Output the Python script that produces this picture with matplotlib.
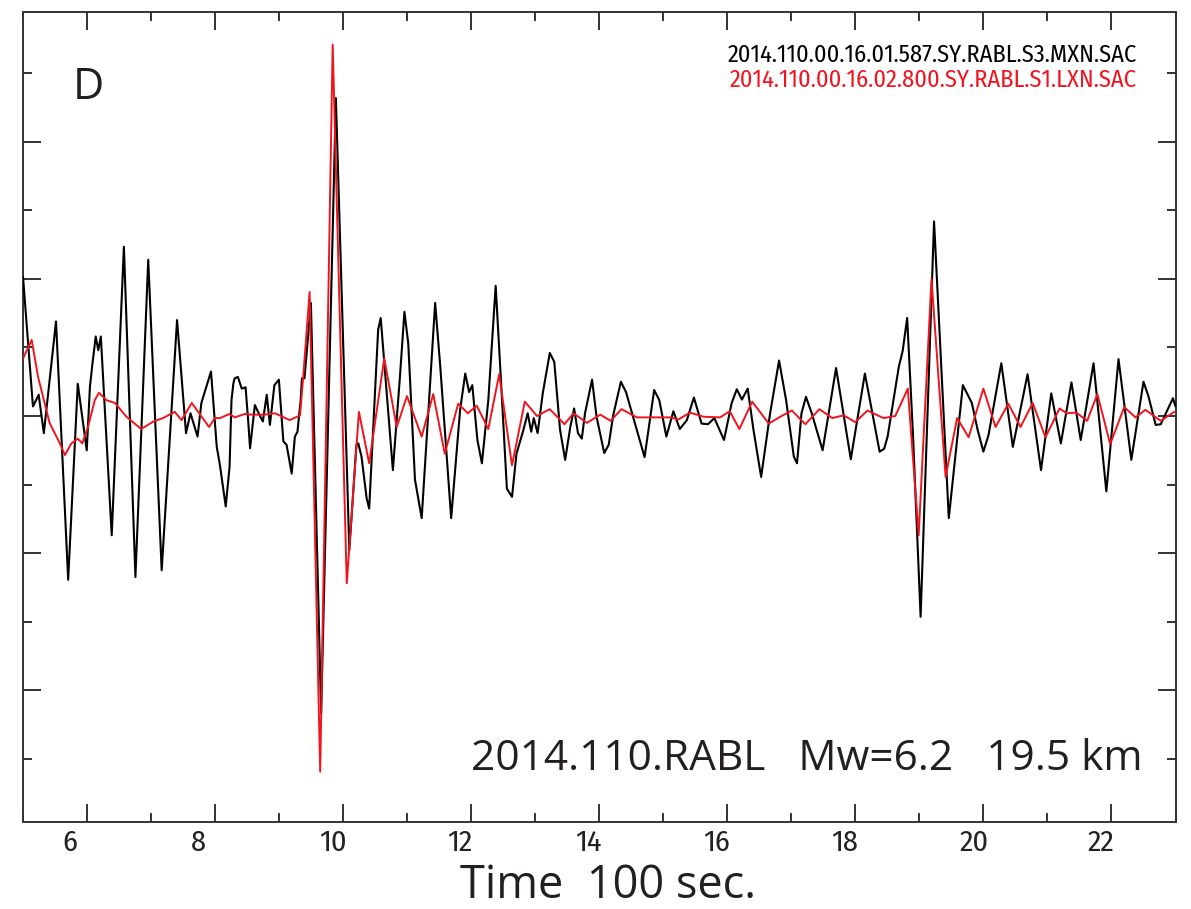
import os
import matplotlib
matplotlib.use("Agg")
import matplotlib.pyplot as plt
from matplotlib import font_manager
from matplotlib.font_manager import FontProperties
from matplotlib.textpath import TextToPath
from matplotlib.ticker import FixedLocator, MultipleLocator
from matplotlib.transforms import ScaledTranslation

# Broadband trace (S3.MXN), time in units of 100 s, relative amplitude
black_t = [5.005, 5.16, 5.25, 5.33, 5.52, 5.71, 5.86, 6.0, 6.05, 6.09, 6.14, 6.18, 6.22,
           6.39, 6.58, 6.76, 6.96, 7.17, 7.41, 7.55, 7.62, 7.73, 7.79, 7.94, 8.03, 8.08,
           8.17, 8.23, 8.26, 8.29, 8.31, 8.36, 8.42, 8.48, 8.52, 8.55, 8.625, 8.70, 8.75,
           8.81, 8.86, 8.93, 9.0, 9.07, 9.12, 9.20, 9.25, 9.29, 9.34, 9.36, 9.40, 9.50,
           9.66, 9.89, 10.10, 10.21, 10.24, 10.29, 10.37, 10.41, 10.55, 10.59, 10.78,
           10.89, 10.96, 11.02, 11.125, 11.23, 11.44, 11.52, 11.69, 11.83, 11.91, 11.97,
           12.02, 12.10, 12.17, 12.27, 12.385, 12.47, 12.56, 12.64, 12.71, 12.81, 12.885,
           12.94, 12.98, 13.04, 13.12, 13.23, 13.30, 13.39, 13.47, 13.55, 13.61, 13.67,
           13.73, 13.78, 13.89, 13.96, 14.08, 14.15, 14.22, 14.34, 14.42, 14.56, 14.71,
           14.86, 14.94, 15.05, 15.16, 15.26, 15.37, 15.48, 15.60, 15.70, 15.80, 15.95,
           16.07, 16.15, 16.23, 16.32, 16.41, 16.53, 16.67, 16.81, 16.92, 17.04, 17.09,
           17.16, 17.23, 17.32, 17.49, 17.70, 17.93, 18.15, 18.38, 18.45, 18.505, 18.68,
           18.74, 18.81, 18.90, 19.02, 19.23, 19.46, 19.68, 19.82, 19.91, 20.0, 20.08,
           20.28, 20.46, 20.69, 20.90, 21.06, 21.21, 21.375, 21.52, 21.72, 21.92, 22.11,
           22.31, 22.50, 22.58, 22.69, 22.77, 22.96, 23.0]
black_a = [2.03, 0.14, 0.31, -0.25, 1.38, -2.39, 0.47, -0.50, 0.43, 0.77, 1.16, 0.96, 1.16,
           -1.74, 2.47, -2.35, 2.28, -2.25, 1.40, -0.25, 0.04, -0.30, 0.19, 0.65, -0.45, -0.72,
           -1.32, -0.74, 0.23, 0.48, 0.55, 0.57, 0.40, 0.42, -0.06, -0.47, 0.16, 0.01, -0.08,
           0.31, -0.13, 0.45, 0.53, -0.37, -0.42, -0.84, -0.30, -0.23, 0.23, 0.55, 0.55, 1.65,
           -4.34, 4.64, -1.96, -0.42, -0.40, -0.59, -1.20, -1.35, 1.26, 1.43, -0.79,
           0.57, 1.52, 1.06, -0.93, -1.49, 1.65, 0.72, -1.49, 0.09, 0.62, 0.35,
           0.45, -0.35, -0.69, 0.23, 1.90, 0.48, -1.06, -1.18, -0.55, -0.23, 0.04,
           -0.23, -0.03, -0.25, 0.33, 0.92, 0.79, -0.20, -0.64, -0.16, 0.11, -0.25,
           -0.33, 0.04, 0.53, -0.01, -0.54, -0.42, 0.01, 0.50, 0.35, -0.11, -0.60,
           0.38, 0.23, -0.30, 0.07, -0.19, -0.06, 0.27, -0.11, -0.12, -0.03, -0.35,
           0.19, 0.39, 0.24, 0.40, -0.20, -0.89, 0.04, 0.81, 0.23, -0.59, -0.69,
           0.04, 0.28, 0.04, -0.50, 0.70, -0.63, 0.62, -0.52, -0.48, -0.30, 0.72,
           0.95, 1.43, -0.25, -2.93, 2.84, -1.49, 0.45, 0.19, -0.20, -0.52, -0.28,
           0.77, -0.45, 0.61, -0.79, 0.33, -0.40, 0.49, -0.35, 0.77, -1.10, 0.83,
           -0.64, 0.50, 0.28, -0.13, -0.12, 0.26, 0.14]

# Long-period trace (S1.LXN)
red_t = [5.005, 5.14, 5.24, 5.42, 5.58, 5.66, 5.76, 5.86, 5.93, 6.02, 6.125, 6.19, 6.31,
         6.44, 6.62, 6.85, 7.04, 7.19, 7.375, 7.48, 7.64, 7.91, 8.0, 8.08, 8.23, 8.31,
         8.47, 8.57, 8.78, 8.94, 9.17, 9.33, 9.38, 9.48, 9.645, 9.84, 10.06, 10.25,
         10.41, 10.645, 10.84, 11.0, 11.23, 11.41, 11.59, 11.80, 11.95, 12.09, 12.27,
         12.44, 12.64, 12.84, 13.03, 13.23, 13.46, 13.60, 13.81, 14.02, 14.18, 14.35,
         14.59, 15.11, 15.24, 15.42, 15.63, 15.89, 16.04, 16.19, 16.39, 16.65, 16.83,
         17.01, 17.22, 17.44, 17.64, 17.82, 18.0, 18.19, 18.44, 18.625, 18.82, 18.99,
         19.19, 19.41, 19.59, 19.77, 20.0, 20.19, 20.39, 20.58, 20.77, 20.97, 21.19,
         21.30, 21.45, 21.62, 21.78, 21.98, 22.20, 22.375, 22.53, 22.77, 22.98]
red_a = [0.84, 1.11, 0.57, -0.10, -0.40, -0.57, -0.40, -0.33, -0.40, -0.16, 0.23, 0.34, 0.23,
         0.19, -0.01, -0.19, -0.08, -0.03, 0.06, -0.06, 0.19, -0.16, -0.03, -0.03, 0.03, -0.02,
         0.03, 0.02, 0.02, 0.04, -0.06, 0.01, 0.57, 1.81, -5.19, 5.42, -2.44, 0.06,
         -0.69, 0.84, -0.16, 0.29, -0.30, 0.32, -0.55, 0.18, 0.04, 0.15, -0.19,
         0.61, -0.72, 0.21, 0.0, 0.10, -0.12, 0.04, -0.10, 0.02, -0.07, 0.10,
         -0.02, -0.02, -0.05, 0.05, -0.01, -0.02, 0.07, -0.19, 0.21, -0.11, -0.01,
         0.08, -0.12, 0.10, -0.03, 0.01, -0.09, 0.08, -0.03, 0.0, 0.40, -1.74,
         2.0, -0.89, -0.03, -0.31, 0.40, -0.16, 0.18, -0.16, 0.19, -0.31, 0.11,
         0.04, 0.05, -0.07, 0.32, -0.41, 0.13, -0.02, 0.09, -0.07, 0.06]

x_ticks = [6, 8, 10, 12, 14, 16, 18, 20, 22]
x_tick_labels = [str(v) for v in x_ticks]

trace_names = ["2014.110.00.16.01.587.SY.RABL.S3.MXN.SAC",
               "2014.110.00.16.02.800.SY.RABL.S1.LXN.SAC"]
trace_colors = ["#000000", "#f0141e"]
panel_tag = "D"
event_text = "2014.110.RABL   Mw=6.2   19.5 km"
x_label = "Time  100 sec."

humanist = ["Open Sans", "DejaVu Sans"]
ink = "#231f20"


def narrow_face(sample, target_em):
    """Regular narrow sans face whose set width of `sample` is closest to target_em."""
    t2p = TextToPath()
    skip = ("bold", "light", "thin", "black", "medium", "heavy", "mono", "serif",
            "italic", "oblique", "cjk")
    best, best_err = None, None
    for f in font_manager.fontManager.ttflist:
        tag = (f.name + " " + os.path.basename(f.fname)).lower()
        if f.style != "normal" or not ("condensed" in tag or "narrow" in tag):
            continue
        if any(w in tag for w in skip):
            continue
        fp = FontProperties(fname=f.fname, size=100)
        try:
            w, _, _ = t2p.get_text_width_height_descent(sample, fp, ismath=False)
        except Exception:
            continue
        err = abs(w / 100.0 - target_em)
        if best_err is None or err < best_err:
            best, best_err = f.fname, err
    if best is None:
        return FontProperties(family=["Liberation Sans", "DejaVu Sans"])
    return FontProperties(fname=best)


narrow = narrow_face(trace_names[0], 16.8)

fig = plt.figure(figsize=(11.91, 9.09), dpi=100)
ax = fig.add_axes([0.01906, 0.09604, 0.96793, 0.89109])

ax.plot(black_t, black_a, color=trace_colors[0], lw=1.5, solid_joinstyle="round",
        solid_capstyle="round", zorder=3)
ax.plot(red_t, red_a, color=trace_colors[1], lw=1.4, solid_joinstyle="round",
        solid_capstyle="round", zorder=4)

ax.set_xlim(5.0, 23.0)
ax.set_ylim(-5.92, 5.90)

for sp in ax.spines.values():
    sp.set_linewidth(1.4)
    sp.set_color("#333333")

ax.xaxis.set_major_locator(FixedLocator(x_ticks))
ax.xaxis.set_minor_locator(MultipleLocator(1))
ax.yaxis.set_major_locator(MultipleLocator(2))
ax.yaxis.set_minor_locator(MultipleLocator(1))
ax.set_xticklabels(x_tick_labels)
ax.tick_params(which="both", direction="in", top=True, right=True, color="#333333",
               width=1.4, labelleft=False)
ax.tick_params(which="major", length=13)
ax.tick_params(which="minor", length=6.8)
ax.tick_params(axis="x", which="major", pad=5, labelcolor="#222222")

# trace names, sized so the block spans its intended width
names = []
for k, yb in enumerate([0.9321, 0.9046]):
    fp = narrow.copy()
    fp.set_size(17.5)
    names.append(fig.text(0.9547, yb, trace_names[k], fontproperties=fp,
                          color=trace_colors[k], ha="right", va="baseline"))
fig.canvas.draw()
renderer = fig.canvas.get_renderer()
w = names[0].get_window_extent(renderer).width
name_size = 17.5 * 410.0 / w
for t in names:
    t.set_fontsize(name_size)

tick_fp = narrow.copy()
tick_fp.set_size(name_size * 1.24)
shift = ScaledTranslation(-24 / 100, 0, fig.dpi_scale_trans)
for lab in ax.get_xticklabels():
    lab.set_fontproperties(tick_fp)
    lab.set_horizontalalignment("left")
    lab.set_transform(lab.get_transform() + shift)

fig.text(0.061, 0.8911, panel_tag, fontsize=31, family=humanist, color=ink,
         ha="left", va="baseline")
fig.text(0.9589, 0.1529, event_text, fontsize=30.5, family=humanist, color=ink,
         ha="right", va="baseline")
fig.text(0.3862, 0.0121, x_label, fontsize=32.5, family=humanist, color=ink,
         ha="left", va="baseline")

fig.savefig("out.png", dpi=100)
